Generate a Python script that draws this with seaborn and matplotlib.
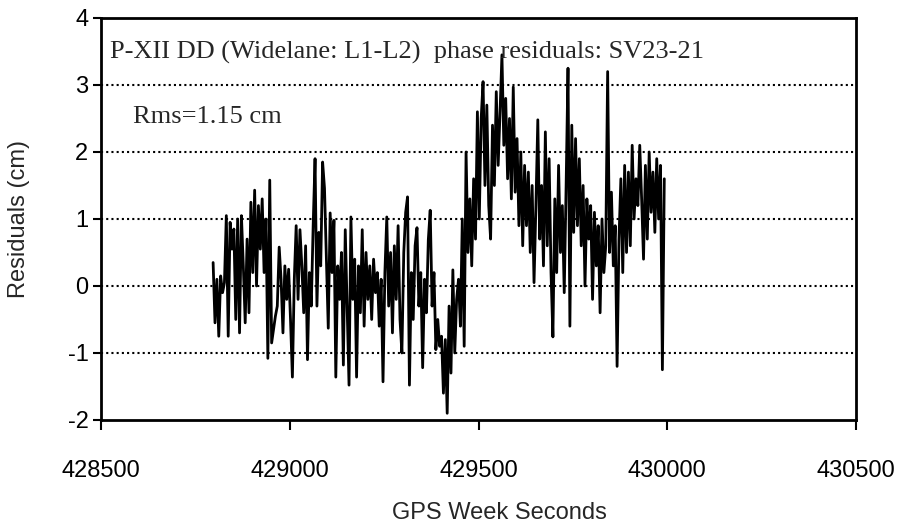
import numpy as np
import pandas as pd
import matplotlib
matplotlib.use("Agg")
import matplotlib.pyplot as plt
import seaborn as sns

# ---- data ----
epoch_start = 428797          # first GPS week second
epoch_step = 5                # sampling interval (s)
residuals_cm = [
    0.35, -0.55, 0.1, -0.75, 0.15, -0.1, 0.05, 1.05, -0.75, 0.95,
    0.55, 0.85, -0.5, 1.0, -0.7, 1.05, 0.3, -0.55, 0.7, -0.4,
    1.25, 0.2, 1.43, 0.0, 1.2, 0.55, 1.3, 0.2, 1.0, -1.08,
    1.58, -0.85, -0.65, -0.45, -0.3, 0.58, 0.1, -0.7, 0.3, -0.2,
    0.25, -0.5, -1.36, 0.1, 0.9, -0.2, 0.84, 0.3, -0.4, 0.6,
    -1.1, 0.2, -0.3, 0.9, 1.9, -0.3, 0.8, 0.3, 1.85, 1.46,
    0.4, -0.63, 1.09, 0.2, 0.98, -1.36, 0.3, -0.2, 0.5, -1.18,
    0.84, -0.3, -1.48, 1.03, -0.2, 0.4, -1.36, 0.3, -0.4, 0.84,
    -0.6, 0.5, -0.2, 0.3, -0.5, 0.4, -0.1, 0.2, -0.6, 0.1,
    -1.43, 0.2, 1.03, -0.3, 0.5, -0.7, 0.6, -0.2, 0.9, -0.5,
    -1.0, 0.5, 1.1, 1.33, -1.48, 0.2, -0.5, 0.6, 0.87, -0.3,
    0.2, -1.22, 0.1, -0.4, 0.69, 1.13, -0.3, 0.2, -0.95, -0.5,
    -0.9, -0.75, -1.6, -0.8, -1.9, -0.3, -1.3, 0.24, -1.0, -0.2,
    0.1, -0.6, 1.0, -0.9, 2.0, 0.5, 1.3, 0.3, 1.6, 0.7,
    2.6, 1.0, 2.5, 3.05, 1.5, 2.7, 1.2, 0.7, 2.4, 1.5,
    2.9, 1.8, 2.6, 3.45, 2.1, 2.8, 1.6, 2.5, 1.3, 2.97,
    1.4, 2.2, 0.9, 2.0, 0.6, 1.8, 0.9, 1.7, 0.5, 1.5,
    0.05, 1.2, 2.48, 0.7, 1.5, 0.3, 2.3, 0.6, 1.9, 0.2,
    -0.76, 1.3, 0.2, 1.8, 0.5, 1.2, -0.1, 1.5, 3.25, -0.6,
    2.4, 0.8, 2.2, 0.9, 1.9, 0.6, 1.5, 0.0, 1.3, 0.7,
    1.2, -0.2, 1.1, 0.3, 0.9, -0.4, 1.0, 0.2, 0.6, 3.2,
    0.5, 1.4, 0.3, 0.9, -1.2, 0.7, 1.6, 0.2, 1.8, 0.5,
    1.7, 0.6, 2.1, 1.0, 1.6, 1.2, 2.1, 1.3, 0.4, 1.8,
    0.7, 2.0, 1.1, 1.7, 0.8, 1.9, 1.0, 1.8, -1.25, 1.6,
]
x_ticks = [428500, 429000, 429500, 430000, 430500]
y_ticks = [-2, -1, 0, 1, 2, 3, 4]
title_text = "P-XII DD (Widelane: L1-L2)  phase residuals: SV23-21"
rms_text = "Rms=1.15 cm"

gps_seconds = epoch_start + epoch_step * np.arange(len(residuals_cm))
df = pd.DataFrame({"t": gps_seconds, "r": residuals_cm})

sns.set_theme(style="white")
plt.rcParams["font.family"] = ["Liberation Sans", "DejaVu Sans"]

fig = plt.figure(figsize=(9, 5.23), dpi=100)
ax = fig.add_axes([0.1122, 0.197, 0.839, 0.7686])

# dotted horizontal grid
for yv in y_ticks[1:-1]:
    ax.axhline(yv, color="black", linestyle=(0, (1, 1.5)), linewidth=1.5, zorder=1)

sns.lineplot(data=df, x="t", y="r", ax=ax, color="black", linewidth=2.0,
             sort=False, estimator=None, zorder=3)

ax.set_xlim(428500, 430500)
ax.set_ylim(-2, 4)
ax.set_xticks(x_ticks)
ax.set_yticks(y_ticks)
ax.set_xticklabels([str(v) for v in x_ticks])
ax.set_yticklabels([str(v) for v in y_ticks])

for s in ax.spines.values():
    s.set_visible(True)
    s.set_color("black")
    s.set_linewidth(2)

ax.tick_params(axis="both", direction="out", length=6, width=1.5,
               colors="black", labelsize=17, bottom=True, left=True,
               top=False, right=False)
ax.tick_params(axis="x", length=7, pad=22)
ax.tick_params(axis="y", pad=3)

ax.set_xlabel("GPS Week Seconds", fontsize=17)
ax.xaxis.set_label_coords(0.528, -0.205)
ax.set_ylabel("Residuals (cm)", fontsize=17)
ax.yaxis.set_label_coords(-0.094, 0.5)

ax.text(428524, 3.49, title_text, fontsize=19, family="Liberation Serif",
        va="center", ha="left")
ax.text(428585, 2.52, rms_text, fontsize=19, family="Liberation Serif",
        va="center", ha="left")

fig.savefig("out.png", dpi=100)
